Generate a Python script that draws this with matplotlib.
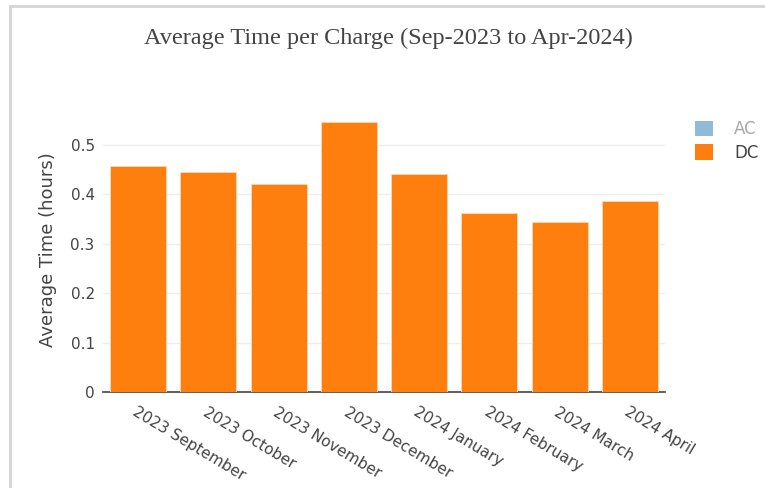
import matplotlib
matplotlib.use("Agg")
import matplotlib.pyplot as plt
from matplotlib.patches import Patch, Rectangle

MESES = [
    "2023 September", "2023 October", "2023 November", "2023 December",
    "2024 January", "2024 February", "2024 March", "2024 April",
]
TEMPO_DC = [0.457, 0.445, 0.421, 0.547, 0.441, 0.362, 0.344, 0.387]
SERIES = ["AC", "DC"]

COR_AC = "#8fbbd9"
COR_DC = "#ff7f0e"
COR_TEXTO = "#444444"

fig = plt.figure(figsize=(7.65, 4.88), dpi=100, facecolor="white")

# moldura cinza clara do print original
fig.patches.append(Rectangle((10 / 765, -0.05), 1.1, 1 - 6 / 488 + 0.05,
                             transform=fig.transFigure, fill=False,
                             edgecolor="#d4d4d4", linewidth=2))

ax = fig.add_axes([103 / 765, 96 / 488, 562 / 765, 285 / 488])
x = range(len(MESES))
ax.bar(x, TEMPO_DC, width=0.8, color=COR_DC, edgecolor="#ffd8b8",
       linewidth=0.6, zorder=3)

ax.set_xlim(-0.5, len(MESES) - 0.5)
ax.set_ylim(0, 0.577)
ax.set_yticks([0, 0.1, 0.2, 0.3, 0.4, 0.5])
ax.set_yticklabels(["0", "0.1", "0.2", "0.3", "0.4", "0.5"])
ax.set_xticks(list(x))
ax.set_xticklabels(MESES, rotation=-31, ha="left", va="top",
                   rotation_mode="anchor")
ax.tick_params(axis="x", length=0, pad=9, labelsize=11, labelcolor=COR_TEXTO)
ax.tick_params(axis="y", length=0, pad=6, labelsize=11, labelcolor=COR_TEXTO)
ax.grid(axis="y", color="#eeeeee", linewidth=1, zorder=0)
for lado in ["top", "right", "left"]:
    ax.spines[lado].set_visible(False)
ax.spines["bottom"].set_color(COR_TEXTO)
ax.spines["bottom"].set_linewidth(1.2)
ax.set_ylabel("Average Time (hours)", fontsize=13, color=COR_TEXTO, labelpad=10)

fig.text(388 / 765, 1 - 38 / 488, "Average Time per Charge (Sep-2023 to Apr-2024)",
         ha="center", va="center", fontsize=17.5, family="Liberation Serif",
         color=COR_TEXTO)

handles = [Patch(facecolor=COR_AC), Patch(facecolor=COR_DC)]
leg = ax.legend(handles, SERIES, loc="upper left",
                bbox_to_anchor=(680 / 765, 1 - 105 / 488),
                bbox_transform=fig.transFigure, frameon=False, fontsize=12,
                handlelength=1.05, handleheight=1.05, handletextpad=1.3,
                labelspacing=0.35)
textos = leg.get_texts()
textos[0].set_color("#a8a8a8")
textos[1].set_color(COR_TEXTO)

fig.savefig("out.png", dpi=100)
